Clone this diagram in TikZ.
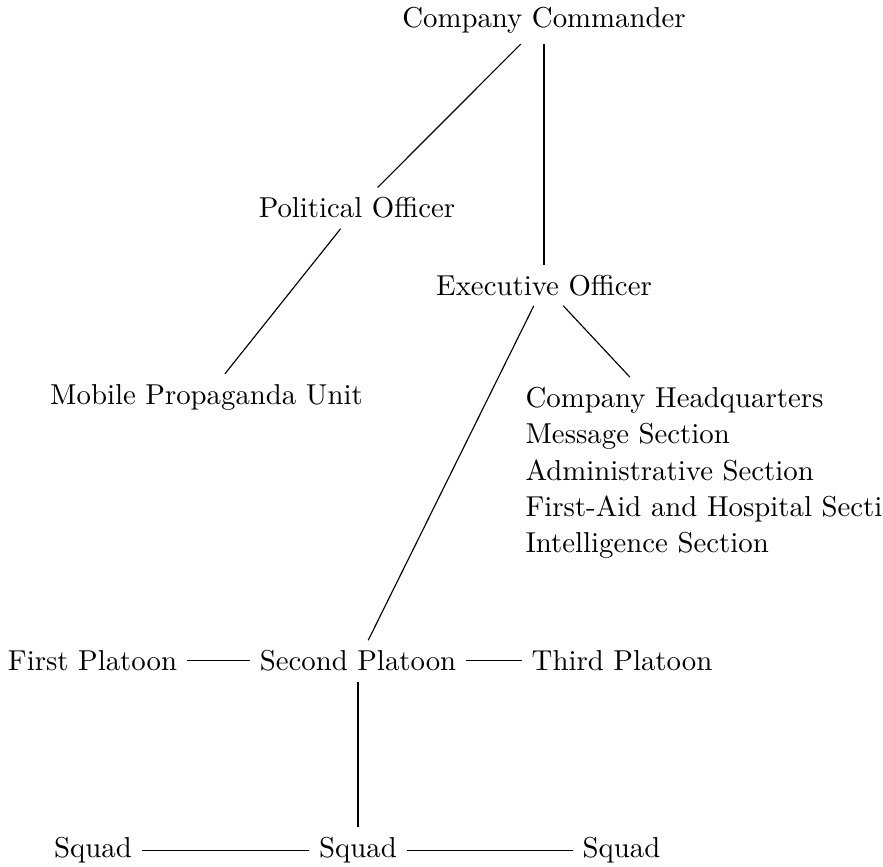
\documentclass[tikz,border=0pt]{standalone}
\begin{document}
\begin{tikzpicture}[x=0.3472pt, y=-0.3472pt,
  lbl/.style={anchor=base, inner sep=3.33pt},
  conn/.style={draw=black, line width=0.4pt}]
\useasboundingbox (0,0) rectangle (883,866);
\node[lbl] (cc) at (544,28) {Company Commander};
\node[lbl] (po) at (357,218) {Political Officer};
\node[lbl] (eo) at (544,295) {Executive Officer};
\node[lbl] (mpu) at (206.5,404) {Mobile Propaganda Unit};
\node[anchor=north west, align=left, inner sep=3.33pt] (hq) at (515.4,377)
  {Company Headquarters\\[0.6pt]Message Section\\[0.6pt]Administrative Section\\[0.6pt]First-Aid and Hospital Section\\[0.6pt]Intelligence Section};
\node[lbl] (fp) at (92.5,670.7) {First Platoon};
\node[lbl] (sp) at (358,670.7) {Second Platoon};
\node[lbl] (tp) at (622,670.7) {Third Platoon};
\node[lbl] (sq1) at (93,857.5) {Squad};
\node[lbl] (sq2) at (358,857.5) {Squad};
\node[lbl] (sq3) at (621.5,857.5) {Squad};
\draw[conn] (cc) -- (po);
\draw[conn] (cc) -- (eo);
\draw[conn] (po) -- (mpu);
\draw[conn] (eo) -- (hq);
\draw[conn] (eo) -- (sp);
\draw[conn] (fp) -- (sp);
\draw[conn] (sp) -- (tp);
\draw[conn] (sp) -- (sq2);
\draw[conn] (sq1) -- (sq2);
\draw[conn] (sq2) -- (sq3);
\end{tikzpicture}
\end{document}
